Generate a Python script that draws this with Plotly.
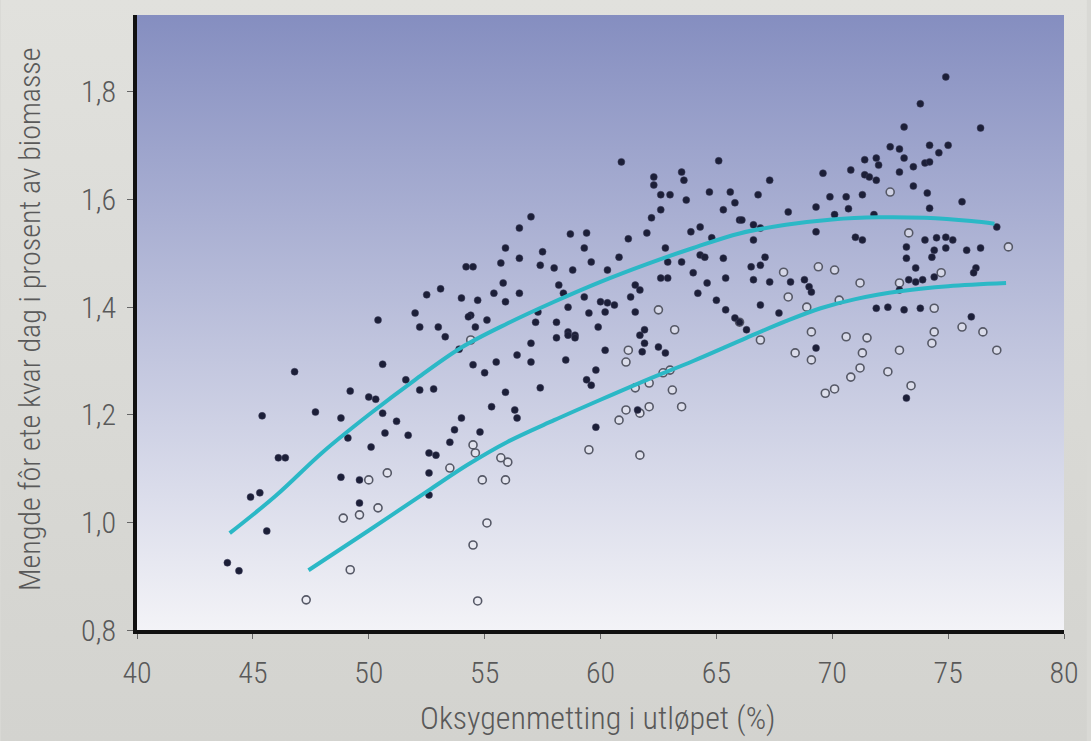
import base64
import plotly.graph_objects as go

# ---- data ----
filled_x = [43.9, 44.4, 45.4, 45.6, 44.9, 45.3, 46.1, 46.4, 46.8, 47.7, 48.8, 49.2, 50.0, 50.3, 50.6, 50.4,
            52.0, 52.5, 53.1, 52.2, 53.0, 53.3, 53.9, 51.6, 52.2, 52.8, 50.6, 51.2, 50.7, 51.7, 49.1, 50.1,
            48.8, 49.6, 49.6, 52.6, 52.9, 54.0, 53.7, 53.5, 52.6, 52.6,
            60.9, 65.1, 62.3, 62.3, 63.5, 63.6, 62.6, 63.0, 63.7, 64.7, 65.6, 62.6, 62.2, 65.3, 65.8, 66.0,
            62.0, 61.2, 63.9, 64.3, 64.8, 62.8, 62.9, 63.5, 64.3, 64.5, 65.3, 64.0, 62.6, 62.9, 64.6, 65.4,
            64.2, 65.0, 65.4, 65.8, 66.0, 61.5, 61.7, 61.3, 60.3, 60.6, 60.2, 61.5, 60.8, 60.3, 59.6, 59.4,
            58.7, 59.3, 58.8, 58.0, 57.4, 57.5, 57.0, 56.5, 55.9, 56.5, 55.7, 54.5, 54.2, 55.8, 55.4, 54.7,
            56.5, 55.9, 58.2, 58.4, 59.3, 58.6, 59.5, 60.0, 55.1, 57.3, 57.2, 58.1, 54.4, 54.6, 58.6, 58.9,
            59.9, 61.9,
            57.0, 58.1, 58.6, 58.9, 56.4, 57.0, 55.5, 54.5, 55.0, 58.5, 60.2, 59.8, 59.4, 59.6, 57.4, 55.9,
            55.3, 56.3, 56.4, 54.8, 59.8, 61.6, 61.7, 61.9, 61.8, 62.5, 62.8,
            74.9, 73.8, 73.1, 76.4, 72.5, 72.9, 74.2, 75.0, 74.6, 73.1, 71.4, 71.9, 72.0, 70.8, 71.4, 71.6,
            71.9, 72.9, 73.5, 74.0, 74.2, 69.6, 67.3, 66.8, 69.9, 70.6, 71.3, 73.5, 74.1, 74.2, 75.6, 69.3,
            68.1, 70.7, 70.1, 71.8, 66.1, 66.6, 66.9, 66.6, 69.3, 71.0, 71.3, 77.1, 74.0, 74.5, 74.9, 75.2,
            73.2, 75.8, 76.4, 74.4, 74.9, 73.2, 74.3, 67.1, 66.5, 66.9, 76.2, 76.1, 73.6, 74.4, 66.6, 67.3,
            68.2, 68.8, 69.0, 69.1, 73.3, 73.6, 73.9, 72.9, 66.9, 67.7, 71.9, 72.4, 73.1, 73.8, 76.0,
            69.3, 66.3, 73.2, 54.0, 54.3]
filled_y = [0.925, 0.91, 1.198, 0.984, 1.047, 1.055, 1.12, 1.12, 1.28, 1.205, 1.194, 1.244, 1.233, 1.229, 1.294, 1.376,
            1.389, 1.423, 1.434, 1.363, 1.363, 1.345, 1.322, 1.265, 1.246, 1.248, 1.203, 1.188, 1.166, 1.162, 1.157, 1.14,
            1.084, 1.079, 1.036, 1.129, 1.125, 1.194, 1.172, 1.149, 1.092, 1.051,
            1.670, 1.672, 1.642, 1.627, 1.651, 1.636, 1.609, 1.609, 1.599, 1.614, 1.614, 1.581, 1.566, 1.581, 1.594, 1.562,
            1.538, 1.527, 1.540, 1.549, 1.529, 1.510, 1.484, 1.484, 1.497, 1.493, 1.491, 1.464, 1.454, 1.454, 1.445, 1.454,
            1.426, 1.413, 1.395, 1.380, 1.372, 1.441, 1.432, 1.419, 1.408, 1.404, 1.391, 1.391, 1.493, 1.469, 1.484, 1.538,
            1.536, 1.510, 1.469, 1.473, 1.478, 1.503, 1.568, 1.547, 1.510, 1.491, 1.482, 1.475, 1.475, 1.445, 1.426, 1.413,
            1.426, 1.410, 1.441, 1.426, 1.419, 1.400, 1.389, 1.410, 1.376, 1.391, 1.372, 1.372, 1.385, 1.363, 1.354, 1.348,
            1.363, 1.358,
            1.333, 1.343, 1.348, 1.343, 1.311, 1.298, 1.298, 1.293, 1.278, 1.302, 1.320, 1.283, 1.265, 1.255, 1.250, 1.242,
            1.215, 1.209, 1.194, 1.168, 1.177, 1.209, 1.348, 1.333, 1.317, 1.326, 1.315,
            1.828, 1.778, 1.735, 1.733, 1.698, 1.694, 1.701, 1.701, 1.687, 1.677, 1.674, 1.677, 1.664, 1.655, 1.646, 1.642,
            1.636, 1.651, 1.661, 1.668, 1.670, 1.649, 1.636, 1.609, 1.605, 1.605, 1.609, 1.625, 1.612, 1.584, 1.596, 1.586,
            1.577, 1.583, 1.572, 1.572, 1.562, 1.553, 1.547, 1.525, 1.540, 1.530, 1.525, 1.549, 1.525, 1.529, 1.530, 1.525,
            1.512, 1.506, 1.510, 1.506, 1.510, 1.491, 1.493, 1.493, 1.475, 1.478, 1.473, 1.464, 1.473, 1.456, 1.451, 1.447,
            1.447, 1.451, 1.438, 1.428, 1.451, 1.447, 1.451, 1.432, 1.404, 1.389, 1.398, 1.400, 1.395, 1.398, 1.382,
            1.324, 1.358, 1.231, 1.417, 1.382]

open_x = [50.8, 50.4, 49.6, 48.9, 50.0, 49.2, 47.3, 53.5, 54.5, 55.1, 54.7, 54.9, 55.9, 54.5, 56.0, 55.7,
          54.6, 62.5, 63.2, 61.2, 61.1, 54.4, 60.8, 61.1, 61.5, 62.1, 61.7, 62.1, 63.1, 63.5, 59.5, 61.7,
          62.7, 63.0, 72.5, 73.3, 77.6, 67.9, 69.4, 70.1, 71.2, 68.1, 68.9, 70.3, 74.7, 74.4, 72.9, 66.0,
          66.9, 68.4, 69.1, 69.1, 70.6, 71.5, 71.3, 71.2, 70.8, 69.7, 70.1, 72.4, 72.9, 73.4, 74.4, 74.3,
          75.6, 76.5, 77.1]
open_y = [1.092, 1.027, 1.014, 1.008, 1.079, 0.912, 0.856, 1.101, 0.958, 0.999, 0.854, 1.079, 1.079, 1.144, 1.112, 1.120,
          1.129, 1.395, 1.358, 1.320, 1.298, 1.339, 1.190, 1.209, 1.250, 1.259, 1.203, 1.215, 1.246, 1.215, 1.135, 1.125,
          1.278, 1.283, 1.614, 1.538, 1.512, 1.465, 1.475, 1.469, 1.445, 1.419, 1.400, 1.413, 1.464, 1.398, 1.445, 1.372,
          1.339, 1.315, 1.302, 1.354, 1.345, 1.343, 1.315, 1.287, 1.270, 1.240, 1.248, 1.280, 1.320, 1.254, 1.354, 1.333,
          1.363, 1.354, 1.320]

upper_x = [44, 46, 48, 50, 52, 54, 56, 58, 60, 62, 64, 66, 68, 70, 72, 74, 76, 77]
upper_y = [0.98, 1.05, 1.13, 1.20, 1.265, 1.325, 1.37, 1.41, 1.447, 1.48, 1.51, 1.537, 1.553, 1.563, 1.567, 1.566, 1.56, 1.555]

lower_x = [47.4, 50, 52.6, 54.3, 56, 58, 60, 62, 64, 66.3, 68, 69.5, 71, 73, 75, 77.5]
lower_y = [0.911, 0.985, 1.06, 1.108, 1.15, 1.19, 1.228, 1.265, 1.30, 1.343, 1.374, 1.398, 1.415, 1.43, 1.439, 1.445]

x_ticks = [40, 45, 50, 55, 60, 65, 70, 75, 80]
y_ticks = [0.8, 1.0, 1.2, 1.4, 1.6, 1.8]

# ---- styling ----
FONT = "Roboto Condensed, DejaVu Sans Condensed, sans-serif"
TXT = "#595959"


def grad_uri(c1, c2):
    svg = ('<svg xmlns="http://www.w3.org/2000/svg" width="10" height="100" viewBox="0 0 10 100" '
           'preserveAspectRatio="none"><defs><linearGradient id="g" x1="0" y1="0" x2="0" y2="1">'
           f'<stop offset="0" stop-color="{c1}"/><stop offset="1" stop-color="{c2}"/>'
           '</linearGradient></defs><rect width="10" height="100" fill="url(#g)"/></svg>')
    return "data:image/svg+xml;base64," + base64.b64encode(svg.encode()).decode()


fig = go.Figure()

fig.add_trace(go.Scatter(x=open_x, y=open_y, mode="markers",
                         marker=dict(symbol="circle", size=8, color="rgba(235,235,242,0.6)",
                                     line=dict(color="#555866", width=1.6)),
                         showlegend=False, hoverinfo="skip"))
fig.add_trace(go.Scatter(x=filled_x, y=filled_y, mode="markers",
                         marker=dict(symbol="circle", size=7, color="#1c1f38",
                                     line=dict(color="rgba(60,60,90,0.5)", width=1)),
                         showlegend=False, hoverinfo="skip"))
fig.add_trace(go.Scatter(x=upper_x, y=upper_y, mode="lines", line=dict(color="#2bb8c6", width=4, shape="spline"),
                         showlegend=False, hoverinfo="skip"))
fig.add_trace(go.Scatter(x=lower_x, y=lower_y, mode="lines", line=dict(color="#2bb8c6", width=4, shape="spline"),
                         showlegend=False, hoverinfo="skip"))

fig.update_layout(
    width=1091, height=741,
    margin=dict(l=137, r=23, t=15, b=111),
    paper_bgcolor="#d9d9d5",
    plot_bgcolor="rgba(0,0,0,0)",
    separators=",.",
    font=dict(family=FONT, color=TXT, size=30, weight=300),
    images=[
        dict(source=grad_uri("#e1e1dd", "#d3d3cf"), xref="paper", yref="paper",
             x=-137 / 931, y=1 + 15 / 615, sizex=1091 / 931, sizey=741 / 615,
             sizing="stretch", layer="below", xanchor="left", yanchor="top"),
        dict(source=grad_uri("#858ec0", "#f3f3f7"), xref="x domain", yref="y domain",
             x=0, y=1, sizex=1, sizey=1, sizing="stretch", layer="below",
             xanchor="left", yanchor="top"),
    ],
    xaxis=dict(range=[40, 80], tickvals=x_ticks, showgrid=False, zeroline=False,
               showline=True, linecolor="#111111", linewidth=4,
               ticks="outside", ticklen=5, tickcolor="#666666", tickwidth=1,
               ticklabelstandoff=8, tickfont=dict(size=30, color=TXT, family=FONT, weight=300)),
    yaxis=dict(range=[0.8, 1.943], tickvals=y_ticks, tickformat=".1f", showgrid=False, zeroline=False,
               showline=True, linecolor="#111111", linewidth=4,
               ticks="outside", ticklen=6, tickcolor="#666666", tickwidth=1,
               ticklabelstandoff=5, tickfont=dict(size=30, color=TXT, family=FONT, weight=300)),
    annotations=[
        dict(text="Mengde fôr ete kvar dag i prosent av biomasse", xref="paper", yref="paper",
             x=-108 / 931, y=0.505, textangle=-90, showarrow=False,
             xanchor="center", yanchor="middle", font=dict(size=30, color=TXT, family=FONT, weight=300)),
        dict(text="Oksygenmetting i utløpet (%)", xref="paper", yref="paper",
             x=0.497, y=-88 / 615, showarrow=False,
             xanchor="center", yanchor="middle", font=dict(size=32, color=TXT, family=FONT, weight=300)),
    ],
)

fig.write_html("out.html")
